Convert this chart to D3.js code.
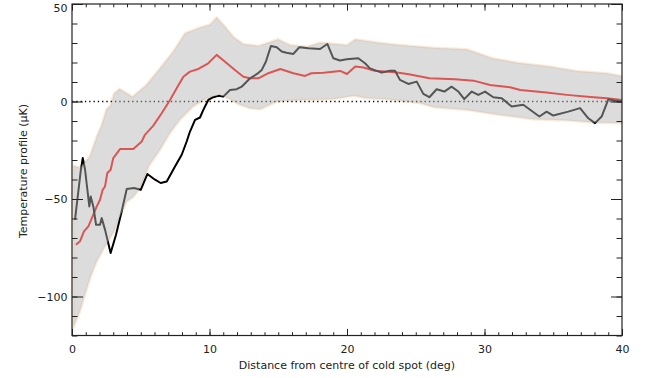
<!DOCTYPE html>
<html>
<head>
<meta charset="utf-8">
<script src="https://cdn.jsdelivr.net/npm/d3@7"></script>
<style>
  body { margin: 0; background: #fff; }
  text { font-family: "DejaVu Sans", sans-serif; fill: #222; }
</style>
</head>
<body>
<div id="chart"></div>
<script>
// observed profile (deg, muK)
var dataDist = [0.22, 0.63, 0.78, 0.95, 1.26, 1.36, 1.55, 1.75, 2.04, 2.16, 2.40, 2.81, 3.20, 3.61, 3.98, 4.51, 5.00, 5.48,
  6.04, 6.45, 6.89, 7.49, 7.98, 8.34, 8.58, 8.95, 9.31, 9.55, 9.91, 10.28, 10.64, 11.00, 11.49, 11.98, 12.34, 12.95,
  13.43, 13.80, 14.10, 14.47, 14.89, 15.25, 15.60, 16.10, 16.53, 17.19, 18.04, 18.57, 19.00, 19.49, 19.98, 20.82,
  21.31, 21.67, 22.52, 23.13, 23.49, 23.85, 24.46, 25.07, 25.55, 25.99, 26.52, 27.08, 27.60, 28.10, 28.53, 29.07,
  29.55, 30.04, 30.64, 31.25, 31.98, 32.82, 33.99, 34.52, 35.00, 36.09, 36.95, 37.55, 38.04, 38.52, 39.01, 39.37, 40.00];
var dataTemp = [-60.6, -35.9, -29.0, -35.0, -53.8, -48.7, -53.8, -63.2, -63.2, -59.8, -65.7, -77.7, -68.3, -56.4, -44.9, -44.4, -45.3, -37.2,
  -40.1, -41.8, -41.0, -33.3, -27.3, -20.5, -15.4, -9.4, -8.2, -4.3, 0.8, 2.2, 2.9, 2.5, 5.9, 6.3, 7.6, 11.9,
  14.0, 16.2, 20.4, 28.5, 27.8, 25.6, 25.0, 24.4, 27.8, 27.3, 26.9, 29.5, 22.2, 21.0, 21.7, 22.2,
  19.6, 17.0, 14.8, 15.8, 15.8, 11.1, 9.0, 10.2, 3.9, 2.2, 6.3, 5.1, 7.6, 5.1, 1.2, 5.1,
  3.4, 5.1, 2.2, 1.7, -2.6, -1.7, -7.7, -5.2, -7.2, -5.2, -3.4, -8.6, -11.1, -7.7, 1.2, 0.5, 0.0];

// mean of simulations
var meanDist = [0.29, 0.58, 0.87, 1.19, 1.50, 1.80, 2.04, 2.23, 2.40, 2.57, 2.81, 3.00, 3.49, 4.46, 5.07, 5.30, 5.90, 6.52,
  7.13, 7.61, 8.10, 8.58, 9.19, 9.91, 10.52, 11.13, 11.85, 12.46, 12.95, 13.55, 14.28, 15.15, 16.10, 16.95, 17.40,
  18.30, 19.50, 20.00, 20.60, 21.20, 22.00, 23.50, 24.50, 26.00, 27.85, 29.20, 30.40, 31.85, 32.60, 34.50, 36.00,
  37.70, 38.90, 40.00];
var meanTemp = [-73.5, -71.7, -66.6, -64.0, -58.9, -53.8, -50.4, -45.3, -43.6, -36.7, -35.0, -29.0, -24.4, -24.4, -20.5, -17.1, -12.5, -6.0,
  0.8, 6.8, 12.7, 15.3, 16.7, 19.6, 23.9, 20.4, 16.2, 12.7, 11.9, 11.9, 14.5, 16.7, 14.5, 13.1, 14.5,
  14.8, 15.7, 14.1, 17.9, 17.4, 15.8, 15.0, 14.0, 11.9, 11.4, 10.7, 8.5, 7.3, 5.9, 4.6, 3.4,
  2.3, 1.7, 0.8];

// simulation spread (upper and lower edges)
var upperDist = [0.1, 0.6, 1.3, 1.8, 2.16, 2.5, 2.8, 3.05, 3.45, 4.4, 5.4, 6.4, 7.36, 8.22, 9.31, 10.04, 10.52, 11.13,
  11.73, 12.46, 13.55, 15.0, 15.85, 17.06, 18.04, 20.0, 20.6, 22.2, 23.85, 26.3, 28.7, 30.6, 32.4, 34.76, 36.7, 38.9, 40];
var upperTemp = [-33, -34, -28, -18, -12, -4, -2, 4, 6.5, 2.5, 8.5, 17, 25.6, 35, 38, 39.5, 43.2, 38.4,
  33.2, 29.5, 28.5, 31.9, 29, 28.1, 30.2, 29, 31.9, 30.2, 29, 27.6, 26.8, 22.2, 19.9, 17.9, 15.7, 14.5, 13.1];
var lowerDist = [0.1, 0.58, 0.95, 1.36, 1.8, 2.4, 3.0, 3.49, 3.98, 4.46, 5.0, 5.6, 6.4, 7.13, 7.85, 8.8, 9.8, 10.76,
  11.6, 12.2, 12.95, 13.7, 14.9, 16.6, 19.0, 20.5, 21.4, 22.9, 25.3, 26.3, 28.7, 31.1, 33.5, 36.0, 37.9, 40];
var lowerTemp = [-116, -107.6, -99, -89.7, -82, -74.3, -67.4, -59, -51.3, -49, -44, -33, -24.8, -16.2, -9.4, -2.6, 1.7, 3.4,
  0.8, -1.7, -3.5, -4, 0, 0.8, 1.2, 2.9, 1.7, 1.2, -0.9, -2.9, -4.3, -6.9, -9.1, -9.8, -10.8, -11.1];

var xMajor = [0, 10, 20, 30, 40];
var yMajor = [-100, -50, 0, 50];

var width = 649, height = 378;
var plotL = 72, plotR = 622, plotT = 4, plotB = 335.5;

var svg = d3.select("#chart")
  .append("svg")
  .attr("width", width)
  .attr("height", height);

var x = d3.scaleLinear().domain([0, 40]).range([plotL, plotR]);
var y = d3.scaleLinear().domain([-120, 50]).range([plotB, plotT]);

var line = d3.line()
  .x(function(d) { return x(d[0]); })
  .y(function(d) { return y(d[1]); });

var data = d3.zip(dataDist, dataTemp);
var mean = d3.zip(meanDist, meanTemp);
var band = d3.zip(upperDist, upperTemp).concat(d3.zip(lowerDist, lowerTemp).reverse());

svg.append("clipPath").attr("id", "clip")
  .append("rect")
  .attr("x", plotL).attr("y", plotT)
  .attr("width", plotR - plotL).attr("height", plotB - plotT);

var plot = svg.append("g").attr("clip-path", "url(#clip)");

// peach rim of the band
plot.append("path")
  .attr("d", line(band) + "Z")
  .attr("fill", "none")
  .attr("stroke", "#fcebdb")
  .attr("stroke-width", 2.5)
  .attr("stroke-linejoin", "round");

// zero line
plot.append("line")
  .attr("x1", x(0)).attr("x2", x(40))
  .attr("y1", y(0)).attr("y2", y(0))
  .attr("stroke", "#000")
  .attr("stroke-width", 1.5)
  .attr("stroke-dasharray", "1.3,3");

plot.append("path")
  .attr("d", line(mean))
  .attr("fill", "none")
  .attr("stroke", "#ff0000")
  .attr("stroke-width", 2)
  .attr("stroke-linejoin", "round");

plot.append("path")
  .attr("d", line(data))
  .attr("fill", "none")
  .attr("stroke", "#000")
  .attr("stroke-width", 2)
  .attr("stroke-linejoin", "round");

// band drawn over the lines, so they show grey / pink inside it
plot.append("path")
  .attr("d", line(band) + "Z")
  .attr("fill", "#b5b5b5")
  .attr("fill-opacity", 0.47)
  .attr("stroke", "none");

// axes, IDL style with inward ticks on all four sides
function minorTicks(lo, hi, step) {
  return d3.range(lo, hi + step / 2, step);
}

function styleAxis(g) {
  g.select(".domain").remove();
  g.selectAll("line").attr("stroke", "#222");
  g.selectAll("text")
    .style("font-family", "DejaVu Sans, sans-serif")
    .style("font-size", "11px")
    .attr("fill", "#222");
}

var fmt = function(d) { return d < 0 ? "\u2212" + Math.abs(d) : String(d); };

svg.append("g")
  .attr("transform", "translate(0," + plotB + ")")
  .call(d3.axisBottom(x).tickValues(minorTicks(0, 40, 1)).tickSize(-3.3).tickFormat(""))
  .call(styleAxis);
svg.append("g")
  .attr("transform", "translate(0," + plotB + ")")
  .call(d3.axisBottom(x).tickValues(xMajor).tickSize(-6.6).tickSizeOuter(0).tickPadding(10).tickFormat(fmt))
  .call(styleAxis);

svg.append("g")
  .attr("transform", "translate(0," + plotT + ")")
  .call(d3.axisTop(x).tickValues(minorTicks(0, 40, 1)).tickSize(-3.3).tickFormat(""))
  .call(styleAxis);
svg.append("g")
  .attr("transform", "translate(0," + plotT + ")")
  .call(d3.axisTop(x).tickValues(xMajor).tickSize(-6.6).tickFormat(""))
  .call(styleAxis);

svg.append("g")
  .attr("transform", "translate(" + plotL + ",0)")
  .call(d3.axisLeft(y).tickValues(minorTicks(-120, 50, 10)).tickSize(-5.5).tickFormat(""))
  .call(styleAxis);
svg.append("g")
  .attr("transform", "translate(" + plotL + ",0)")
  .call(d3.axisLeft(y).tickValues(yMajor).tickSize(-11).tickPadding(4.5).tickFormat(fmt))
  .call(styleAxis)
  .selectAll("text")
  .attr("dy", function(d) { return d === 50 ? "0.7em" : "0.32em"; });

svg.append("g")
  .attr("transform", "translate(" + plotR + ",0)")
  .call(d3.axisRight(y).tickValues(minorTicks(-120, 50, 10)).tickSize(-5.5).tickFormat(""))
  .call(styleAxis);
svg.append("g")
  .attr("transform", "translate(" + plotR + ",0)")
  .call(d3.axisRight(y).tickValues(yMajor).tickSize(-11).tickFormat(""))
  .call(styleAxis);

// frame
svg.append("rect")
  .attr("x", plotL).attr("y", plotT)
  .attr("width", plotR - plotL).attr("height", plotB - plotT)
  .attr("fill", "none")
  .attr("stroke", "#222")
  .attr("stroke-width", 1.2);

svg.append("text")
  .attr("x", (plotL + plotR) / 2)
  .attr("y", 369)
  .attr("text-anchor", "middle")
  .style("font-size", "11px")
  .text("Distance from centre of cold spot (deg)");

svg.append("text")
  .attr("transform", "translate(27," + 171 + ") rotate(-90)")
  .attr("text-anchor", "middle")
  .style("font-size", "11px")
  .text("Temperature profile (\u03bcK)");
</script>
</body>
</html>
